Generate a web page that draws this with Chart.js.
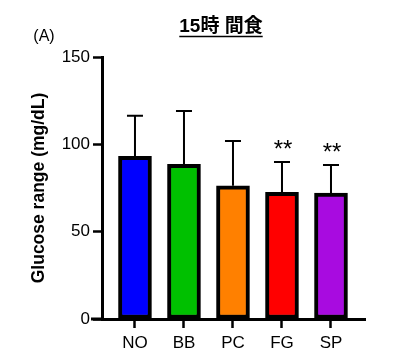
<!DOCTYPE html>
<html>
<head>
<meta charset="utf-8">
<script src="https://cdn.jsdelivr.net/npm/chart.js@4"></script>
<style>
  html, body { margin: 0; padding: 0; background: #fff; }
  canvas { display: block; }
</style>
</head>
<body>
<canvas id="chart" width="404" height="364"></canvas>
<script>
// data
const categories = ['NO', 'BB', 'PC', 'FG', 'SP'];
const means = [93.2, 88.6, 76.3, 72.5, 72.1];
const sds = [23.2, 30.5, 25.6, 17.4, 16.1];
const marks = ['', '', '', '**', '**'];
const yTicks = [0, 50, 100, 150];
const colors = ['#0000FF', '#00C000', '#FF8000', '#FF0000', '#A80BE0'];

const FONT = '"Liberation Sans", Arial, sans-serif';

// error bars, significance stars, title and panel letter
const extras = {
  id: 'extras',
  afterDatasetsDraw(chart) {
    const { ctx, scales: { x, y }, chartArea } = chart;
    ctx.save();
    ctx.strokeStyle = '#000';
    ctx.fillStyle = '#000';
    ctx.lineWidth = 2;
    means.forEach((m, i) => {
      const px = x.getPixelForValue(i + 1);
      const top = y.getPixelForValue(m + sds[i]);
      const base = y.getPixelForValue(m);
      ctx.beginPath();
      ctx.moveTo(px, base);
      ctx.lineTo(px, top);
      ctx.moveTo(px - 8, top);
      ctx.lineTo(px + 8, top);
      ctx.stroke();
      if (marks[i]) {
        ctx.font = '24px ' + FONT;
        ctx.textAlign = 'center';
        ctx.textBaseline = 'alphabetic';
        ctx.fillText(marks[i], px + 1, top - 5);
      }
    });

    // x axis runs a little left of the y axis
    ctx.lineWidth = 3;
    ctx.beginPath();
    ctx.moveTo(91, chartArea.bottom);
    ctx.lineTo(chartArea.left, chartArea.bottom);
    ctx.stroke();

    // title, underlined
    ctx.font = 'bold 19px "Liberation Sans", "Noto Sans CJK JP", sans-serif';
    ctx.textAlign = 'center';
    ctx.textBaseline = 'middle';
    const title = '15時 間食';
    ctx.fillText(title, 221, 27);
    const w = ctx.measureText(title).width;
    ctx.lineWidth = 1.5;
    ctx.beginPath();
    ctx.moveTo(221 - w / 2, 36.5);
    ctx.lineTo(221 + w / 2, 36.5);
    ctx.stroke();

    ctx.font = '16px ' + FONT;
    ctx.fillText('(A)', 44, 37);
    ctx.restore();
  }
};

new Chart(document.getElementById('chart'), {
  type: 'bar',
  data: {
    datasets: [{
      data: categories.map((c, i) => ({ x: i + 1, y: means[i] })),
      backgroundColor: colors,
      borderColor: '#000',
      borderWidth: 4,
      borderSkipped: false,
      barThickness: 33
    }]
  },
  options: {
    responsive: false,
    animation: false,
    devicePixelRatio: 1,
    layout: { padding: { left: 0, right: 39, top: 57, bottom: 0 } },
    plugins: { legend: { display: false }, tooltip: { enabled: false } },
    scales: {
      x: {
        type: 'linear',
        offset: false,
        min: 0.327,
        max: 5.694,
        afterBuildTicks: s => { s.ticks = categories.map((c, i) => ({ value: i + 1 })); },
        afterFit: s => { s.height = 45; },
        ticks: {
          callback: v => categories[v - 1] || '',
          autoSkip: false,
          maxRotation: 0,
          color: '#000',
          padding: 5,
          font: { family: FONT, size: 17 }
        },
        grid: { offset: false, drawOnChartArea: false, drawTicks: true, tickLength: 9, tickWidth: 2.5, tickColor: '#000' },
        border: { display: true, color: '#000', width: 3 }
      },
      y: {
        min: 0,
        max: 150,
        afterBuildTicks: s => { s.ticks = yTicks.map(v => ({ value: v })); },
        afterFit: s => { s.width = 102; },
        ticks: {
          color: '#000',
          padding: 3,
          font: { family: FONT, size: 17 }
        },
        grid: { drawOnChartArea: false, drawTicks: true, tickLength: 9, tickWidth: 2.5, tickColor: '#000' },
        border: { display: true, color: '#000', width: 3 },
        title: {
          display: true,
          text: 'Glucose range (mg/dL)',
          color: '#000',
          font: { family: FONT, size: 17.5, weight: 'bold' },
          padding: { top: 29, bottom: 0 }
        }
      }
    }
  },
  plugins: [extras]
});
</script>
</body>
</html>
